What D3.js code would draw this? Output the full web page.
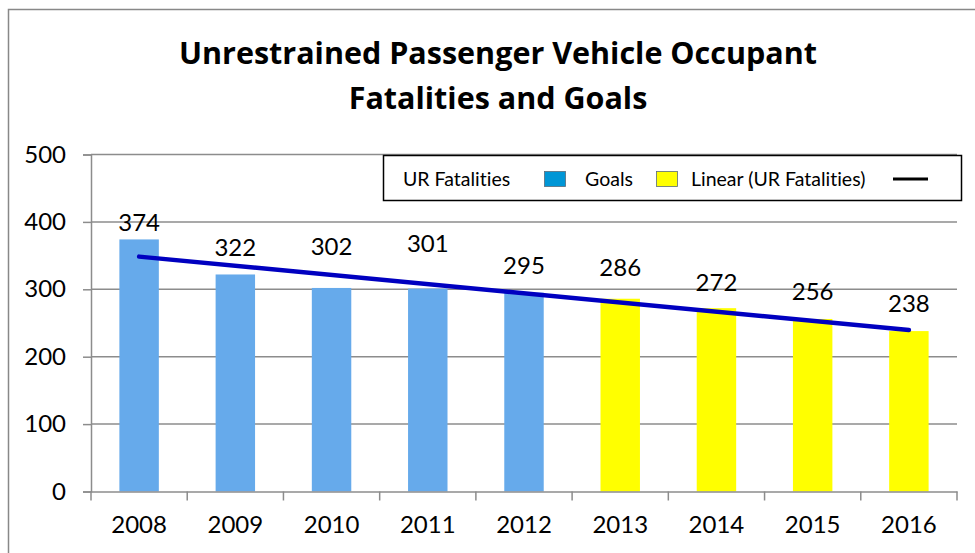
<!DOCTYPE html>
<html>
<head>
<meta charset="utf-8">
<script src="https://cdn.jsdelivr.net/npm/d3@7"></script>
<style>
  body { margin: 0; background: #fff; }
  text { font-family: Lato, "Open Sans", sans-serif; fill: #000; font-variant-ligatures: none; }
  text.title { font-family: "Open Sans", sans-serif; font-weight: bold; font-size: 30.5px; }
</style>
</head>
<body>
<div id="chart"></div>
<script>
const years = ['2008', '2009', '2010', '2011', '2012', '2013', '2014', '2015', '2016'];
const fatalities = [374, 322, 302, 301, 295, 286, 272, 256, 238];
const isGoal = [false, false, false, false, false, true, true, true, true];
const yTicks = [0, 100, 200, 300, 400, 500];
// hand-placed label lifts (px above bar top), like the dragged Excel labels
const labelLift = [17, 27, 41, 45, 27, 31, 26, 27, 27];

const width = 975,
  height = 553,
  plotLeft = 91,
  plotRight = 957,
  plotTop = 154.5,
  plotBottom = 491.5;

const svg = d3.select('#chart').append('svg')
  .attr('width', width)
  .attr('height', height);

// outer chart border
svg.append('rect')
  .attr('x', 8.5).attr('y', 9.5)
  .attr('width', width + 10).attr('height', height + 10)
  .attr('fill', 'none')
  .attr('stroke', '#888')
  .attr('stroke-width', 1.5);

const title = svg.append('g')
  .attr('text-anchor', 'middle');
title.append('text')
  .attr('class', 'title')
  .attr('x', 498).attr('y', 64)
  .text('Unrestrained Passenger Vehicle Occupant');
title.append('text')
  .attr('class', 'title')
  .attr('x', 498).attr('y', 109)
  .text('Fatalities and Goals');

const x = d3.scaleBand().domain(years).range([plotLeft, plotRight]);
const y = d3.scaleLinear().domain([0, 500]).range([plotBottom, plotTop]);
const barW = x.bandwidth() * 0.41;

// gridlines
svg.append('g')
  .selectAll('line')
  .data(yTicks.slice(1))
  .join('line')
  .attr('x1', plotLeft).attr('x2', plotRight)
  .attr('y1', d => y(d)).attr('y2', d => y(d))
  .attr('stroke', '#8c8c8c')
  .attr('stroke-width', 1.5);

// bars
svg.append('g')
  .selectAll('rect')
  .data(fatalities)
  .join('rect')
  .attr('x', (d, i) => x(years[i]) + (x.bandwidth() - barW) / 2)
  .attr('y', d => y(d))
  .attr('width', barW)
  .attr('height', d => plotBottom - y(d))
  .attr('fill', (d, i) => isGoal[i] ? '#ffff00' : '#66aaeb');

// y axis
const yAxis = svg.append('g')
  .attr('transform', `translate(${plotLeft},0)`)
  .call(d3.axisLeft(y).tickValues(yTicks).tickSize(8).tickPadding(17));
yAxis.select('.domain').attr('stroke', '#8c8c8c').attr('stroke-width', 1.5);
yAxis.selectAll('.tick line').attr('stroke', '#8c8c8c').attr('stroke-width', 1.5);
yAxis.selectAll('.tick text').attr('font-size', 24).attr('fill', '#000');

// x axis
const xAxis = svg.append('g')
  .attr('transform', `translate(0,${plotBottom})`)
  .call(d3.axisBottom(x).tickSize(0).tickPadding(24));
xAxis.select('.domain').attr('stroke', '#8c8c8c').attr('stroke-width', 1.5);
xAxis.selectAll('.tick text').attr('font-size', 24).attr('fill', '#000');
svg.append('g')
  .selectAll('line')
  .data(years.concat(['end']))
  .join('line')
  .attr('x1', (d, i) => plotLeft + i * x.step()).attr('x2', (d, i) => plotLeft + i * x.step())
  .attr('y1', plotBottom).attr('y2', plotBottom + 9)
  .attr('stroke', '#8c8c8c')
  .attr('stroke-width', 1.5);

// linear trend through the fatalities
const n = fatalities.length,
  mx = d3.mean(fatalities, (d, i) => i),
  my = d3.mean(fatalities),
  slope = d3.sum(fatalities, (d, i) => (i - mx) * (d - my)) / d3.sum(fatalities, (d, i) => (i - mx) * (i - mx)),
  trend = [0, n - 1].map(i => [i, my + slope * (i - mx)]);

svg.append('path')
  .datum(trend)
  .attr('d', d3.line()
    .x(d => x(years[d[0]]) + x.bandwidth() / 2)
    .y(d => y(d[1])))
  .attr('fill', 'none')
  .attr('stroke', '#0000c0')
  .attr('stroke-width', 4.5)
  .attr('stroke-linecap', 'round');

// value labels
svg.append('g')
  .selectAll('text')
  .data(fatalities)
  .join('text')
  .attr('x', (d, i) => x(years[i]) + x.bandwidth() / 2)
  .attr('y', (d, i) => y(d) - labelLift[i])
  .attr('dy', '0.35em')
  .attr('text-anchor', 'middle')
  .attr('font-size', 24)
  .text(d => d);

// legend
const lg = svg.append('g');
lg.append('rect')
  .attr('x', 383.5).attr('y', 155.5)
  .attr('width', 578).attr('height', 45)
  .attr('fill', '#fff')
  .attr('stroke', '#000')
  .attr('stroke-width', 1.5);
lg.append('text').attr('x', 403).attr('y', 179).attr('dy', '0.35em')
  .attr('font-size', 19.5).text('UR Fatalities');
lg.append('rect').attr('x', 544.5).attr('y', 171.5).attr('width', 21).attr('height', 15)
  .attr('fill', '#0096d6').attr('stroke', '#5a6b7a').attr('stroke-width', 0.8);
lg.append('text').attr('x', 585).attr('y', 179).attr('dy', '0.35em')
  .attr('font-size', 19.5).text('Goals');
lg.append('rect').attr('x', 656.5).attr('y', 171.5).attr('width', 21).attr('height', 15)
  .attr('fill', '#ffff00').attr('stroke', '#5a6b7a').attr('stroke-width', 0.8);
lg.append('text').attr('x', 691).attr('y', 179).attr('dy', '0.35em')
  .attr('font-size', 19.5).text('Linear (UR Fatalities)');
lg.append('line').attr('x1', 893).attr('x2', 928).attr('y1', 179).attr('y2', 179)
  .attr('stroke', '#000').attr('stroke-width', 3);
</script>
</body>
</html>
